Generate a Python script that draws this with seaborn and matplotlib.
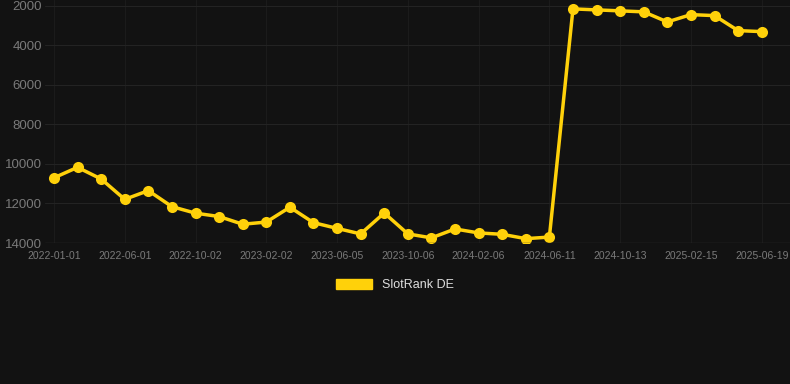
import numpy as np
import pandas as pd
import matplotlib.pyplot as plt
import matplotlib.patches as mpatches
import seaborn as sns

# etichetele de pe axa x (fiecare al treilea punct)
etichete_x = ['2022-01-01', '2022-06-01', '2022-10-02', '2023-02-02', '2023-06-05',
              '2023-10-06', '2024-02-06', '2024-06-11', '2024-10-13', '2025-02-15',
              '2025-06-19']

# rangul, 31 de puncte
rang = [10700, 10170, 10760, 11790, 11350, 12160, 12490, 12660, 13050, 12940,
        12190, 12970, 13260, 13540, 12480, 13540, 13740, 13290, 13490, 13560,
        13780, 13700, 2150, 2200, 2250, 2300, 2810, 2440, 2490, 3250, 3300]

serie = 'SlotRank DE'
culoare = '#FFD10A'
fundal = '#121212'

df = pd.DataFrame({'idx': np.arange(len(rang)), 'rang': rang})

sns.set_style('dark')
plt.rcParams['font.family'] = ['Liberation Sans', 'DejaVu Sans']

fig = plt.figure(figsize=(7.9, 3.84), dpi=100, facecolor=fundal)
ax = fig.add_axes([45 / 790, (384 - 243) / 384, 745 / 790, 243 / 384])
ax.set_facecolor(fundal)

sns.lineplot(data=df, x='idx', y='rang', ax=ax, color=culoare, linewidth=2.5,
             marker='o', markersize=8, markeredgewidth=0, legend=False)

ax.set_xlim(-0.38, 31.2)
ax.set_ylim(14000, 1700)
ax.set_yticks(np.arange(2000, 14001, 2000))
ax.set_xticks(np.arange(0, len(rang), 3))
ax.set_xticklabels(etichete_x)
ax.grid(axis='y', color='#232323', linewidth=0.8)
ax.grid(axis='x', color='#1b1b1b', linewidth=0.8)
ax.tick_params(axis='x', colors='#7a7a7a', labelsize=7.5, length=0, pad=6)
ax.tick_params(axis='y', colors='#7a7a7a', labelsize=9.5, length=0, pad=2)
for s in ax.spines.values():
    s.set_visible(False)
ax.axhline(14000, color='#2e2e2e', linewidth=1)
ax.set_xlabel('')
ax.set_ylabel('')

patch = mpatches.Patch(color=culoare, label=serie)
leg = fig.legend(handles=[patch], loc='center', bbox_to_anchor=(0.5, 1 - 285 / 384),
                 frameon=False, handlelength=2.9, handleheight=0.9, fontsize=9)
for t in leg.get_texts():
    t.set_color('#dddddd')

fig.savefig('out.png', dpi=100, facecolor=fundal)
